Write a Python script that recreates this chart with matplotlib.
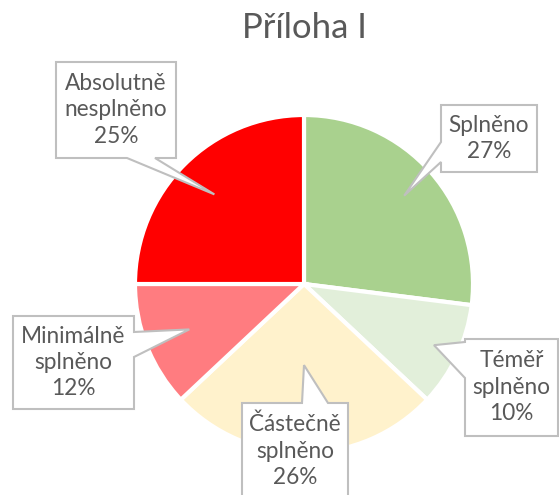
import numpy as np
import matplotlib
matplotlib.use('Agg')
import matplotlib.pyplot as plt
from matplotlib.patches import Polygon

# data
labels = ['Splněno', 'Téměř\nsplněno', 'Částečně\nsplněno', 'Minimálně\nsplněno', 'Absolutně\nnesplněno']
values = [27, 10, 26, 12, 25]
colors = ['#A9D18E', '#E2EFDA', '#FFF2CC', '#FF7C80', '#FF0000']

W, H = 559, 495
text_col = '#595959'
plt.rcParams['font.family'] = ['Lato', 'DejaVu Sans']

fig = plt.figure(figsize=(W / 100, H / 100), dpi=100)
ax = fig.add_axes([0, 0, 1, 1])

# pie geometry (pixel coords, y measured from top)
cx, cy, r = 304, 284, 169
ax.pie(values, colors=colors, startangle=90, counterclock=False,
       center=(cx, H - cy), radius=r,
       wedgeprops=dict(edgecolor='white', linewidth=3))
ax.set_xlim(0, W)
ax.set_ylim(0, H)
ax.set_aspect('equal')
ax.axis('off')

# callout boxes: (left, top, right, bottom), side of pointer, pointer base, tip distance (fraction of r)
boxes = [
    ((441, 105, 537, 172), 'left', (142, 162), 0.79),
    ((465, 339, 558, 436), 'left', (342, 378), 0.85),
    ((242, 403, 348, 520), 'top', (302, 328), 0.48),
    ((13, 316, 134, 409), 'right', (332, 357), 0.73),
    ((56, 62, 176, 158), 'bottom', (127, 155), 0.75),
]

total = sum(values)
cum = 0
for lab, v, (box, side, (a1, a2), frac) in zip(labels, values, boxes):
    ang = np.deg2rad(90 - 360 * (cum + v / 2) / total)
    cum += v
    tip = (cx + frac * r * np.cos(ang), cy - frac * r * np.sin(ang))
    l, t, rr, b = box
    if side == 'top':
        pts = [(l, t), (a1, t), tip, (a2, t), (rr, t), (rr, b), (l, b)]
    elif side == 'right':
        pts = [(l, t), (rr, t), (rr, a1), tip, (rr, a2), (rr, b), (l, b)]
    elif side == 'bottom':
        pts = [(l, t), (rr, t), (rr, b), (a2, b), tip, (a1, b), (l, b)]
    else:
        pts = [(l, t), (rr, t), (rr, b), (l, b), (l, a2), tip, (l, a1)]
    pts = [(x, H - y) for x, y in pts]
    ax.add_patch(Polygon(pts, closed=True, facecolor='white',
                         edgecolor='#BFBFBF', linewidth=1.5, zorder=3))
    pct = '%d%%' % v
    ax.text((l + rr) / 2, H - (t + min(b, t + 96)) / 2, lab + '\n' + pct,
            ha='center', va='center', fontsize=16.3, color=text_col,
            linespacing=1.32, zorder=4)

ax.text(304, H - 28, 'Příloha I', ha='center', va='center',
        fontsize=25, color=text_col)

fig.savefig('out.png', dpi=100)
